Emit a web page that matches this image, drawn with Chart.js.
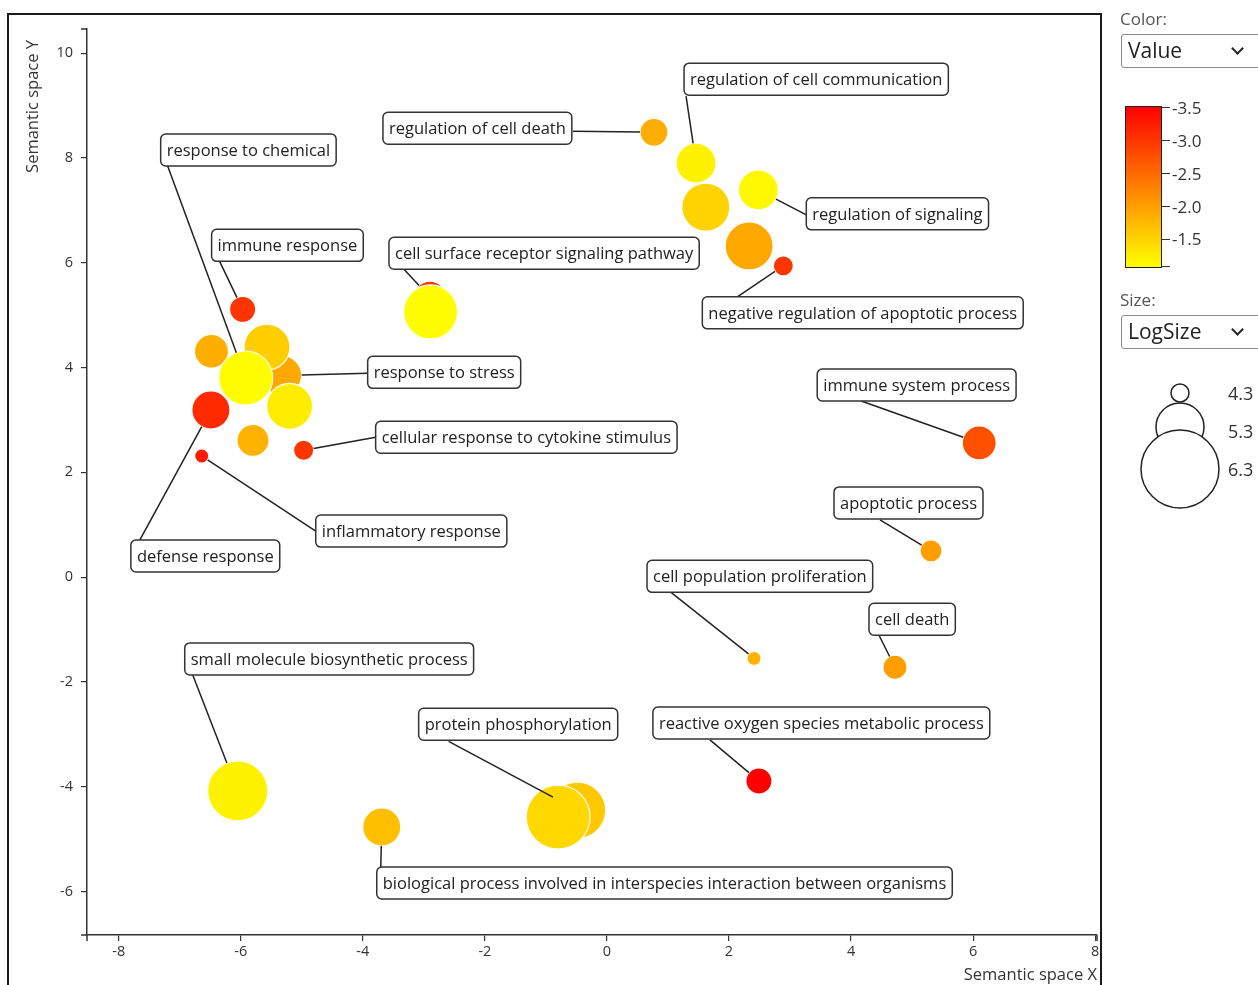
<!DOCTYPE html>
<html>
<head>
<meta charset="utf-8">
<title>Semantic space</title>
<script src="https://cdn.jsdelivr.net/npm/chart.js@4.4.1/dist/chart.umd.min.js"></script>
<style>
  html, body { margin: 0; padding: 0; background: #fff; overflow: hidden; width: 1258px; height: 985px; font-family: "Open Sans", sans-serif; }
  #frame { position: absolute; left: 7px; top: 13px; width: 1095px; height: 1000px; border: 2px solid #1a1a1a; box-sizing: border-box; pointer-events: none; }
  #plot { position: absolute; left: 0; top: 0; }
  .cap { position: absolute; left: 1120px; font-size: 17px; color: #555; line-height: 20px; }
  .sel { position: absolute; left: 1121px; width: 150px; height: 34px; border: 1px solid #8a8a8a; border-radius: 3px; box-sizing: border-box; font-size: 21px; color: #222; line-height: 31px; padding-left: 6px; }
  .chev { position: absolute; width: 7px; height: 7px; border-right: 2.5px solid #222; border-bottom: 2.5px solid #222; transform: rotate(45deg); }
  #cbar { position: absolute; left: 1125px; top: 106px; width: 37px; height: 162px; border: 1.5px solid #222; box-sizing: border-box; }
  .ctick { position: absolute; left: 1162px; width: 8px; height: 0; border-top: 1.5px solid #333; }
  .clab { position: absolute; left: 1172px; font-size: 17px; color: #333; line-height: 20px; }
  #sizeleg { position: absolute; left: 1120px; top: 370px; }
</style>
</head>
<body>
<canvas id="plot" width="1258" height="985"></canvas>
<div id="frame"></div>

<div class="cap" style="top:9px">Color:</div>
<div class="sel" style="top:34px">Value<span class="chev" style="left:111px;top:9px"></span></div>
<div id="cbar"></div>
<div id="cticks"></div>

<div class="cap" style="top:290px">Size:</div>
<div class="sel" style="top:315px">LogSize<span class="chev" style="left:111px;top:9px"></span></div>
<svg id="sizeleg" width="138" height="150"></svg>

<script>
// GO terms placed in semantic space ('' = bubble drawn without a label)
const labels = [
  'regulation of cell death',
  'regulation of cell communication',
  '',
  'regulation of signaling',
  '',
  'negative regulation of apoptotic process',
  'cell surface receptor signaling pathway',
  '',
  'immune response',
  'response to stress',
  '',
  '',
  'response to chemical',
  '',
  'defense response',
  '',
  'cellular response to cytokine stimulus',
  'inflammatory response',
  'immune system process',
  'apoptotic process',
  'cell population proliferation',
  'cell death',
  'reactive oxygen species metabolic process',
  'small molecule biosynthetic process',
  'protein phosphorylation',
  '',
  'biological process involved in interspecies interaction between organisms'
];
const semX = [0.77, 1.46, 1.62, 2.48, 2.33, 2.89, -2.90, -2.89, -5.97, -5.33, -5.57, -6.48, -5.92, -5.20, -6.49, -5.80, -4.97, -6.64, 6.10, 5.31, 2.41, 4.72, 2.49, -6.05, -0.48, -0.80, -3.69];
const semY = [8.49, 7.90, 7.06, 7.39, 6.32, 5.94, 5.34, 5.06, 5.11, 3.85, 4.39, 4.31, 3.80, 3.26, 3.19, 2.61, 2.42, 2.31, 2.56, 0.50, -1.55, -1.72, -3.89, -4.08, -4.45, -4.58, -4.77];
const values = [-1.85, -1.2, -1.5, -1.15, -1.9, -3.0, -2.95, -1.1, -3.0, -1.9, -1.55, -1.85, -1.1, -1.25, -3.1, -1.8, -3.0, -3.25, -2.75, -2.0, -1.8, -2.0, -3.5, -1.2, -1.6, -1.45, -1.7];
const logSizes = [4.63, 5.03, 5.3, 5.03, 5.3, 4.37, 4.77, 5.5, 4.57, 5.03, 5.23, 4.83, 5.5, 5.23, 4.97, 4.77, 4.37, 4.17, 4.83, 4.43, 4.17, 4.5, 4.57, 5.7, 5.57, 5.83, 4.97];

// legend tick values
const colorTicks = [-3.5, -3.0, -2.5, -2.0, -1.5];
const sizeTicks = [4.3, 5.3, 6.3];

// label layout: box top-left and leader start, in px relative to the bubble centre
const labelLayout = [
  { box: [-271, -20], from: [-81, -1] },
  { box: [-12, -100], from: [-10, -67] },
  null,
  { box: [48, 8], from: [48, 25] },
  null,
  { box: [-81, 31], from: [-46, 31] },
  { box: [-41, -60], from: [-26, -28] },
  null,
  { box: [-31, -80], from: [-23, -48] },
  { box: [86, -19], from: [86, -2] },
  null,
  null,
  { box: [-85, -244], from: [-78, -212] },
  null,
  { box: [-80, 130], from: [-71, 130] },
  null,
  { box: [72, -29], from: [72, -13] },
  { box: [114, 59], from: [114, 75] },
  { box: [-162, -74], from: [-118, -42] },
  { box: [-97, -64], from: [-51, -31] },
  { box: [-107, -98], from: [-83, -66] },
  { box: [-26, -64], from: [-16, -32] },
  { box: [-106, -74], from: [-49, -41] },
  { box: [-53, -148], from: [-45, -116] },
  { box: [-159, -102], from: [-129, -69] },
  null,
  { box: [-5, 40], from: [-1, 40] }
];

// colour domain of the value scale (red -> yellow)
const colorMin = -3.5, colorMax = -1.08;
function valueColor(v) {
  const t = Math.max(0, Math.min(1, (v - colorMin) / (colorMax - colorMin)));
  return 'rgb(255,' + Math.round(255 * t) + ',0)';
}
// bubble radius in px for a log size
function sizeScale(ls) { return 9 + (ls - 4.3) * 15; }

const FONT = '"Open Sans", sans-serif';

const points = semX.map((x, i) => ({ x: x, y: semY[i], r: sizeScale(logSizes[i]) }));

const termLabels = {
  id: 'termLabels',
  afterDatasetsDraw(chart) {
    const ctx = chart.ctx;
    const meta = chart.getDatasetMeta(0);
    ctx.save();
    ctx.font = '16.5px ' + FONT;
    // leader lines
    ctx.strokeStyle = '#222';
    ctx.lineWidth = 1.5;
    labels.forEach((lab, i) => {
      const lay = labelLayout[i];
      if (!lab || !lay) return;
      const el = meta.data[i];
      const r = sizeScale(logSizes[i]);
      const sx = el.x + lay.from[0], sy = el.y + lay.from[1];
      const dx = el.x - sx, dy = el.y - sy;
      const d = Math.hypot(dx, dy);
      const ex = el.x - dx / d * r, ey = el.y - dy / d * r;
      ctx.beginPath();
      ctx.moveTo(sx, sy);
      ctx.lineTo(ex, ey);
      ctx.stroke();
    });
    // boxes and text
    labels.forEach((lab, i) => {
      const lay = labelLayout[i];
      if (!lab || !lay) return;
      const el = meta.data[i];
      const x0 = el.x + lay.box[0], y0 = el.y + lay.box[1];
      const w = ctx.measureText(lab).width + 12, h = 32;
      ctx.beginPath();
      ctx.roundRect(x0, y0, w, h, 5);
      ctx.fillStyle = '#fff';
      ctx.fill();
      ctx.strokeStyle = '#333';
      ctx.lineWidth = 1.5;
      ctx.stroke();
      ctx.fillStyle = '#222';
      ctx.textBaseline = 'middle';
      ctx.textAlign = 'left';
      ctx.fillText(lab, x0 + 6, y0 + h / 2 + 1);
    });
    ctx.restore();
  },
  afterDraw(chart) {
    const ctx = chart.ctx;
    const a = chart.chartArea;
    ctx.save();
    // outer end ticks of both axes
    ctx.strokeStyle = '#333';
    ctx.lineWidth = 1.5;
    ctx.beginPath();
    ctx.moveTo(a.left, a.bottom); ctx.lineTo(a.left, a.bottom + 6);
    ctx.moveTo(a.right, a.bottom); ctx.lineTo(a.right, a.bottom + 6);
    ctx.moveTo(a.left, a.top); ctx.lineTo(a.left - 6, a.top);
    ctx.moveTo(a.left, a.bottom); ctx.lineTo(a.left - 6, a.bottom);
    ctx.stroke();
    // axis titles
    ctx.fillStyle = '#333';
    ctx.font = '16.5px ' + FONT;
    ctx.textAlign = 'right';
    ctx.textBaseline = 'alphabetic';
    ctx.fillText('Semantic space X', a.right, 980);
    ctx.translate(38, a.top + 11);
    ctx.rotate(-Math.PI / 2);
    ctx.fillText('Semantic space Y', 0, 0);
    ctx.restore();
  }
};

const axisCommon = {
  type: 'linear',
  grid: { drawOnChartArea: false, drawTicks: true, tickLength: 6, color: '#333', lineWidth: 1.2 },
  border: { color: '#333', width: 1.5 }
};

new Chart(document.getElementById('plot'), {
  type: 'bubble',
  data: {
    datasets: [{
      data: points,
      backgroundColor: values.map(valueColor),
      borderColor: 'rgba(255,255,255,0.95)',
      borderWidth: 1.2,
      hoverBorderWidth: 1.2
    }]
  },
  options: {
    responsive: false,
    animation: false,
    devicePixelRatio: 1,
    events: [],
    clip: false,
    layout: { autoPadding: false, padding: { left: 37, top: 29, right: 161, bottom: 20 } },
    plugins: { legend: { display: false }, tooltip: { enabled: false } },
    scales: {
      x: Object.assign({}, axisCommon, {
        min: -8.52, max: 8.03,
        afterFit(s) { s.height = 30; s.paddingLeft = 0; s.paddingRight = 0; },
        ticks: { stepSize: 2, includeBounds: false, maxRotation: 0, padding: 2, color: '#333', font: { size: 14.5, family: FONT } }
      }),
      y: Object.assign({}, axisCommon, {
        min: -6.83, max: 10.46,
        afterFit(s) { s.width = 50; s.paddingTop = 0; s.paddingBottom = 0; },
        ticks: { stepSize: 2, includeBounds: false, padding: 8, color: '#333', font: { size: 14.5, family: FONT } }
      })
    }
  },
  plugins: [termLabels]
});

// colour legend: gradient bar, ticks and labels
(function () {
  const bar = document.getElementById('cbar');
  const stops = [];
  for (let k = 0; k <= 10; k++) {
    const v = colorMin + (colorMax - colorMin) * k / 10;
    stops.push(valueColor(v) + ' ' + (k * 10) + '%');
  }
  bar.style.background = 'linear-gradient(to bottom, ' + stops.join(', ') + ')';
  const top = 108, bottom = 267;
  const yOf = v => top + (v - colorMin) / (colorMax - colorMin) * (bottom - top);
  const box = document.getElementById('cticks');
  let html = '';
  colorTicks.forEach(v => {
    const y = yOf(v);
    html += '<div class="ctick" style="top:' + (y - 0.75) + 'px"></div>';
    html += '<div class="clab" style="top:' + (y - 10) + 'px">' + v.toFixed(1) + '</div>';
  });
  html += '<div class="ctick" style="top:' + (bottom - 0.75) + 'px"></div>';
  box.innerHTML = html;
})();

// size legend: nested circles with their log sizes
(function () {
  const svg = document.getElementById('sizeleg');
  const ns = 'http://www.w3.org/2000/svg';
  const cx = 60;
  const centers = [23, 57, 99];
  const labelY = [24, 62, 100];
  sizeTicks.forEach((ls, i) => {
    const c = document.createElementNS(ns, 'circle');
    c.setAttribute('cx', cx);
    c.setAttribute('cy', centers[i]);
    c.setAttribute('r', sizeScale(ls));
    c.setAttribute('fill', '#fff');
    c.setAttribute('stroke', '#222');
    c.setAttribute('stroke-width', '1.5');
    svg.appendChild(c);
  });
  sizeTicks.forEach((ls, i) => {
    const t = document.createElementNS(ns, 'text');
    t.setAttribute('x', 108);
    t.setAttribute('y', labelY[i] + 6);
    t.setAttribute('font-size', '18');
    t.setAttribute('font-family', 'Open Sans, sans-serif');
    t.setAttribute('fill', '#333');
    t.textContent = ls.toFixed(1);
    svg.appendChild(t);
  });
})();
</script>
</body>
</html>
